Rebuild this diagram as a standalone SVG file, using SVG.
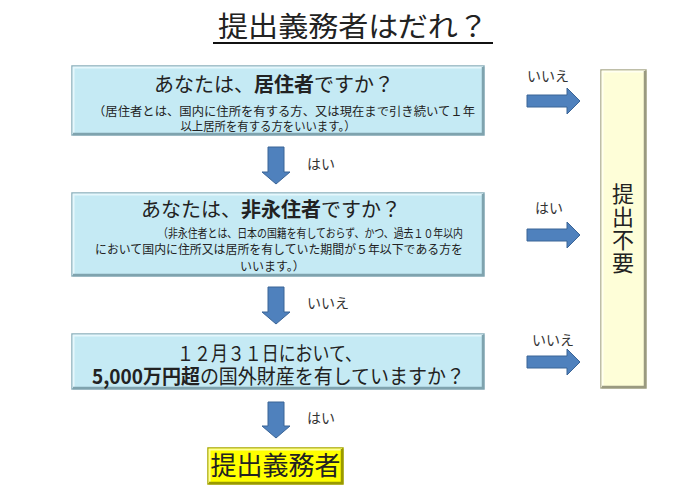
<svg xmlns="http://www.w3.org/2000/svg" width="700" height="498" viewBox="0 0 700 498">
<style>
.jp{font-family:"Noto Sans CJK JP","Noto Sans CJK SC",sans-serif;fill:#222}
.main{font-size:20px}
.sub{font-size:12px}
.lbl{font-size:14px;fill:#333}
.box{fill:#C5EAF4;stroke:#8AAFBA;stroke-width:1.5}
.hl{fill:none;stroke:#E6F7FC;stroke-width:2}
.sh{fill:none;stroke:#7FA3AE;stroke-width:2.5}
.arr{fill:#4F81BD;stroke:#3A6496;stroke-width:1}
</style>
<rect width="700" height="498" fill="#fff"/>
<g id="title">
<text class="jp" x="218" y="37" font-size="28" textLength="270" lengthAdjust="spacingAndGlyphs">提出義務者はだれ？</text>
<line x1="213" y1="43" x2="493" y2="43" stroke="#111" stroke-width="2"/>
</g>
<g id="q1">
<rect class="box" x="72" y="66" width="412" height="69"/>
<path class="hl" d="M73.5,134 V67.5 H483"/>
<path class="sh" d="M73,134 H483 V67"/>
<text class="jp main" x="274" y="92" text-anchor="middle">あなたは、<tspan font-weight="bold">居住者</tspan>ですか？</text>
<text class="jp sub" x="93" y="116" textLength="382" lengthAdjust="spacingAndGlyphs">（居住者とは、国内に住所を有する方、又は現在まで引き続いて１年</text>
<text class="jp sub" x="268" y="131" text-anchor="middle" textLength="175" lengthAdjust="spacingAndGlyphs">以上居所を有する方をいいます。）</text>
</g>
<g id="q2">
<rect class="box" x="72" y="193" width="412" height="83"/>
<path class="hl" d="M73.5,275 V194.5 H483"/>
<path class="sh" d="M73,275 H483 V194"/>
<text class="jp main" x="271" y="217" text-anchor="middle">あなたは、<tspan font-weight="bold">非永住者</tspan>ですか？</text>
<text class="jp sub" x="158" y="238" textLength="305" lengthAdjust="spacingAndGlyphs">（非永住者とは、日本の国籍を有しておらず、かつ、過去１０年以内</text>
<text class="jp sub" x="95" y="254" textLength="368" lengthAdjust="spacingAndGlyphs">において国内に住所又は居所を有していた期間が５年以下である方を</text>
<text class="jp sub" x="240" y="271">いいます。）</text>
</g>
<g id="q3">
<rect class="box" x="72" y="334" width="412" height="55"/>
<path class="hl" d="M73.5,388 V335.5 H483"/>
<path class="sh" d="M73,388 H483 V335"/>
<text class="jp main" x="177" y="361" textLength="185" lengthAdjust="spacingAndGlyphs">１２月３１日において、</text>
<text class="jp main" x="92" y="384" textLength="373" lengthAdjust="spacingAndGlyphs"><tspan font-weight="bold">5,000万円超</tspan>の国外財産を有していますか？</text>
</g>
<g id="notRequired">
<rect x="601" y="70" width="45" height="318" fill="#FEFED8" stroke="#A9A98C" stroke-width="1.5"/>
<path d="M602.5,387 V71.5 H645" fill="none" stroke="#FFFFF0" stroke-width="2"/>
<path d="M602,387 H645 V71" fill="none" stroke="#9A9A80" stroke-width="2.5"/>
<text class="jp" x="623" y="183" font-size="22" writing-mode="vertical-rl" letter-spacing="1">提出不要</text>
</g>
<g id="obligated">
<rect x="208" y="448" width="135" height="36" fill="#FFFF00" stroke="#A6A600" stroke-width="1.5"/>
<path d="M209.5,483 V449.5 H342" fill="none" stroke="#FFFF99" stroke-width="2"/>
<path d="M209,483 H342 V449" fill="none" stroke="#999900" stroke-width="2.5"/>
<text class="jp" x="275.5" y="475" font-size="26" text-anchor="middle" fill="#111">提出義務者</text>
</g>
<g id="connectors">
<path class="arr" d="M268,147 H284 V172 H290 L276,184 L262,172 H268 Z"/>
<path class="arr" d="M268,287 H284 V312 H290 L276,324 L262,312 H268 Z"/>
<path class="arr" d="M268,402 H284 V426 H290 L276,438 L262,426 H268 Z"/>
<path class="arr" d="M527,95 H567 V88 L580,101 L567,114 V107 H527 Z"/>
<path class="arr" d="M527,229 H567 V222 L580,235 L567,248 V241 H527 Z"/>
<path class="arr" d="M527,356 H567 V349 L580,362 L567,375 V368 H527 Z"/>
<text class="jp lbl" x="307" y="169">はい</text>
<text class="jp lbl" x="307" y="308">いいえ</text>
<text class="jp lbl" x="307" y="423">はい</text>
<text class="jp lbl" x="527" y="81">いいえ</text>
<text class="jp lbl" x="535" y="213">はい</text>
<text class="jp lbl" x="532" y="345">いいえ</text>
</g>
</svg>
